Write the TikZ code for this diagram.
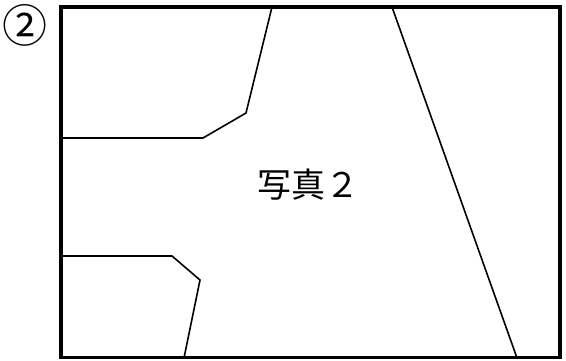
\documentclass[tikz,border=0pt]{standalone}
\usepackage{fontspec}
\newfontfamily\jpfont{Noto Sans CJK JP}
\begin{document}
\begin{tikzpicture}[x=1pt,y=-1pt]
	\useasboundingbox (0,0) rectangle (566,361);
	\begin{scope}[every node/.style={inner sep=0pt,font=\jpfont}]
	\node (num) at (25,25) {\fontsize{45}{45}\selectfont ②};
	\node (title) at (308,185) {\fontsize{34}{34}\selectfont 写真２};
	\end{scope}
	\coordinate (A) at (61,138);
	\coordinate (B) at (203,138);
	\coordinate (C) at (246,113);
	\coordinate (D) at (272,7);
	\coordinate (E) at (392,7);
	\coordinate (F) at (517,358);
	\coordinate (G) at (61,256);
	\coordinate (H) at (172,256);
	\coordinate (I) at (200,280);
	\coordinate (J) at (184,358);
	\draw [line width=1.6pt] (A) -- (B) -- (C) -- (D);
	\draw [line width=1.6pt] (E) -- (F);
	\draw [line width=1.6pt] (G) -- (H) -- (I) -- (J);
	\draw [line width=3.4pt] (61,7) rectangle (560,357.5);
\end{tikzpicture}
\end{document}
